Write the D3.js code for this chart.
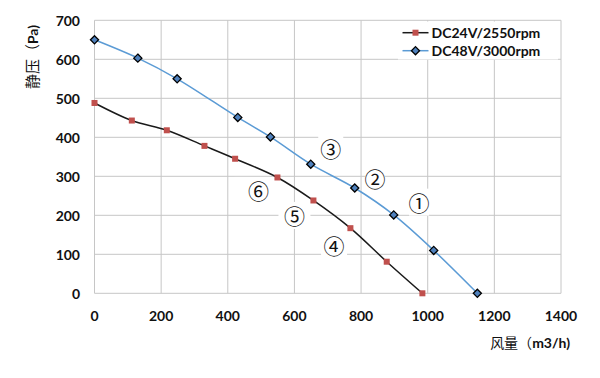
<!DOCTYPE html>
<html>
<head>
<meta charset="utf-8">
<script src="https://cdn.jsdelivr.net/npm/d3@7"></script>
<style>
  body { margin: 0; background: #fff; }
  svg { display: block; }
</style>
</head>
<body>
<svg id="chart" width="600" height="378"></svg>
<script>
// ---- data ----
const seriesNames = ["DC24V/2550rpm", "DC48V/3000rpm"];
const flow24 = [0, 112, 217, 330, 422, 549, 657, 768, 877, 984];
const pressure24 = [488, 443, 418, 378, 345, 297, 238, 167, 81, 0];
const flow48 = [0, 130, 248, 430, 528, 649, 781, 898, 1018, 1149];
const pressure48 = [650, 603, 550, 451, 401, 331, 270, 201, 110, 0];
const xTicks = [0, 200, 400, 600, 800, 1000, 1200, 1400];
const yTicks = [0, 100, 200, 300, 400, 500, 600, 700];
const zoneLabels = ["①", "②", "③", "④", "⑤", "⑥"];
const zoneFlow = [974, 842, 709, 719, 600, 492];
const zonePressure = [235, 296, 373, 124, 201, 265];

// ---- layout ----
const svg = d3.select("#chart");
const pLeft = 94.5, pRight = 561, pTop = 20.3, pBottom = 293.3;
const x = d3.scaleLinear().domain([0, 1400]).range([pLeft, pRight]);
const y = d3.scaleLinear().domain([0, 700]).range([pBottom, pTop]);
const gridColor = "#c6c6c6";
const latin = "Lato, 'Open Sans', sans-serif";
const cjk = "'Noto Sans CJK SC', sans-serif";

// grid
const grid = svg.append("g");
grid.selectAll("line.v").data(xTicks).enter().append("line")
  .attr("x1", d => x(d)).attr("x2", d => x(d))
  .attr("y1", pTop).attr("y2", pBottom)
  .attr("stroke", gridColor).attr("stroke-width", 1);
grid.selectAll("line.h").data(yTicks).enter().append("line")
  .attr("x1", pLeft).attr("x2", pRight)
  .attr("y1", d => y(d)).attr("y2", d => y(d))
  .attr("stroke", gridColor).attr("stroke-width", 1);

// zone labels (white boxes over grid)
const zoneW = [20, 20, 25, 26, 32, 36];
const zoneDX = [0, 0, 0, 0, 0, -6];
const zones = svg.append("g");
zoneLabels.forEach((t, i) => {
  const cx = x(zoneFlow[i]), cy = y(zonePressure[i]);
  zones.append("rect")
    .attr("x", cx - zoneW[i] / 2 + zoneDX[i]).attr("y", cy - 13)
    .attr("width", zoneW[i]).attr("height", 27)
    .attr("fill", "#fff");
  zones.append("text")
    .attr("x", cx).attr("y", cy)
    .attr("text-anchor", "middle").attr("dominant-baseline", "central")
    .attr("font-family", cjk).attr("font-size", 21).attr("fill", "#111")
    .text(t);
});

// axes tick labels
svg.append("g").selectAll("text").data(xTicks).enter().append("text")
  .attr("x", d => x(d)).attr("y", 315)
  .attr("text-anchor", "middle").attr("dominant-baseline", "central")
  .attr("font-family", latin).attr("font-weight", "bold").attr("font-size", 14)
  .attr("fill", "#111").text(d => d);
svg.append("g").selectAll("text").data(yTicks).enter().append("text")
  .attr("x", 80).attr("y", d => y(d))
  .attr("text-anchor", "end").attr("dominant-baseline", "central")
  .attr("font-family", latin).attr("font-weight", "bold").attr("font-size", 14)
  .attr("fill", "#111").text(d => d);

// axis titles
const xt = svg.append("text").attr("x", 570).attr("y", 348)
  .attr("text-anchor", "end").attr("font-size", 14).attr("fill", "#111");
xt.append("tspan").attr("font-family", cjk).text("风量（");
xt.append("tspan").attr("font-family", latin).attr("font-weight", "bold").text("m3/h)");

const yt = svg.append("text")
  .attr("transform", "translate(38,57) rotate(-90)")
  .attr("text-anchor", "middle").attr("font-size", 14).attr("fill", "#111");
yt.append("tspan").attr("font-family", cjk).attr("font-size", 15).text("静压（");
yt.append("tspan").attr("font-family", latin).attr("font-weight", "bold").text("Pa)");

// series
const line = d3.line().x(d => x(d[0])).y(d => y(d[1])).curve(d3.curveCatmullRom.alpha(0.5));
const s24 = flow24.map((f, i) => [f, pressure24[i]]);
const s48 = flow48.map((f, i) => [f, pressure48[i]]);

svg.append("path").datum(s24).attr("d", line)
  .attr("fill", "none").attr("stroke", "#1a1a1a").attr("stroke-width", 1.5);
svg.append("path").datum(s48).attr("d", line)
  .attr("fill", "none").attr("stroke", "#5b9bd5").attr("stroke-width", 1.5);

const sq = 6;
svg.append("g").selectAll("rect").data(s24).enter().append("rect")
  .attr("x", d => x(d[0]) - sq / 2).attr("y", d => y(d[1]) - sq / 2)
  .attr("width", sq).attr("height", sq).attr("fill", "#c0504d");

const diamond = d3.symbol().type(d3.symbolDiamond2).size(42);
svg.append("g").selectAll("path").data(s48).enter().append("path")
  .attr("d", diamond)
  .attr("transform", d => `translate(${x(d[0])},${y(d[1])})`)
  .attr("fill", "#4f81bd").attr("stroke", "#000").attr("stroke-width", 1.3);

// legend
const lg = svg.append("g");
lg.append("rect").attr("x", 398).attr("y", 21.5).attr("width", 160).attr("height", 38).attr("fill", "#fff");
const legY = [32.7, 50.7];
seriesNames.forEach((name, i) => {
  const ly = legY[i];
  lg.append("line").attr("x1", 402.5).attr("x2", 428.5).attr("y1", ly).attr("y2", ly)
    .attr("stroke", i === 0 ? "#1a1a1a" : "#5b9bd5").attr("stroke-width", 1.5);
  if (i === 0) {
    lg.append("rect").attr("x", 415.5 - sq / 2).attr("y", ly - sq / 2)
      .attr("width", sq).attr("height", sq).attr("fill", "#c0504d");
  } else {
    lg.append("path").attr("d", diamond).attr("transform", `translate(415.5,${ly})`)
      .attr("fill", "#4f81bd").attr("stroke", "#000").attr("stroke-width", 1.3);
  }
  lg.append("text").attr("x", 431.5).attr("y", ly)
    .attr("dominant-baseline", "central")
    .attr("font-family", latin).attr("font-weight", "bold").attr("font-size", 14)
    .attr("fill", "#111").text(name);
});
</script>
</body>
</html>
